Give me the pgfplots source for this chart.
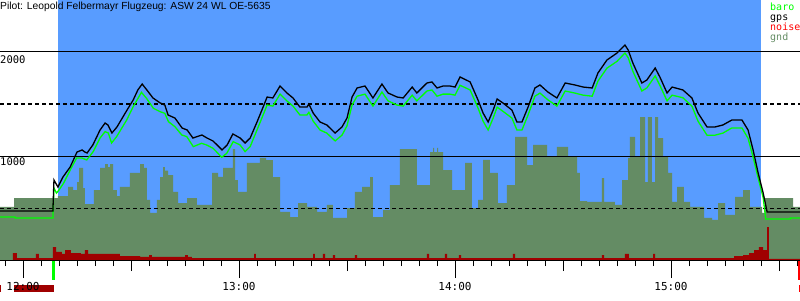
\documentclass[border=0pt]{standalone}
\usepackage{pgfplots}
\pgfplotsset{compat=1.18}
\usepackage{fontspec}
\setmainfont{Liberation Sans}
\newfontfamily\monofont{DejaVu Sans Mono}
\definecolor{sky}{RGB}{88,156,255}
\definecolor{gndc}{RGB}{100,140,100}
\definecolor{noisec}{RGB}{160,0,0}
\definecolor{baroc}{RGB}{0,255,0}
\definecolor{legred}{RGB}{255,0,0}

\begin{document}
\begin{tikzpicture}[x=1pt,y=1pt]
\begin{axis}[
  at={(0,0)}, anchor=south west,
  scale only axis, width=800pt, height=260pt,
  xmin=-6.39, xmax=215.83, ymin=0, ymax=2500,
  clip=false,
  axis x line*=bottom, axis y line=none,
  axis line style={black, line width=1pt, -},
  ytick=\empty,
  xtick={0,60,120,180}, xticklabel={\relax},
  minor xtick={-5,0,...,215},
  major tick length=18pt, minor tick length=6pt,
  extra x ticks={30,90,150,210},
  extra x tick style={major tick length=11pt},
  tick align=outside,
  every tick/.style={black, line width=1pt},
  axis on top,
]
% flight period background
\addplot[fill=sky, draw=none] coordinates {(9.72,0) (9.72,2500) (205.0,2500) (205.0,0)} -- cycle;

% ground elevation
\addplot[const plot, fill=gndc, draw=none] table {
-6.39 510
-2.5 596
8.3 596
9.7 615
12.5 702
13.9 673
15.0 750
15.6 885
16.7 692
17.2 538
19.7 673
21.4 885
22.8 923
23.6 894
24.2 923
25.0 673
26.1 615
26.9 702
29.7 837
32.5 923
33.6 885
34.4 577
35.3 452
37.2 577
38.1 798
38.9 894
39.4 860
40.3 817
41.7 654
43.1 548
45.6 596
48.3 529
52.5 837
54.2 800
55.6 885
58.3 1067
58.9 769
59.7 654
62.2 933
65.8 981
67.5 960
69.4 798
71.4 462
74.2 413
76.4 548
78.9 510
81.7 462
84.4 529
86.1 404
90.0 500
92.2 654
94.2 702
96.4 798
97.2 413
100.0 481
101.9 721
104.7 1067
109.4 721
113.1 1038
113.9 1077
114.2 1038
115.0 1077
115.3 1038
116.7 865
119.2 673
122.8 933
124.7 500
126.4 577
127.8 962
129.7 837
131.9 548
134.4 721
136.7 1183
140.0 913
141.7 1106
145.6 990
148.3 1087
151.4 990
153.9 837
154.7 567
156.7 558
160.8 788
161.4 558
164.4 529
166.4 769
168.1 981
168.6 1183
170.0 990
171.4 1375
172.8 750
173.6 1375
174.7 750
175.6 1375
176.4 1173
177.8 990
179.2 837
180.3 558
181.7 702
183.6 558
185.3 510
189.2 404
191.4 385
193.1 548
195.0 433
197.8 606
200.0 673
201.9 510
205.3 452
206.1 596
213.9 510
215.83 510
} \closedcycle;

% noise
\addplot[const plot, fill=noisec, draw=none] table {
-6.39 0
-2.8 67
-1.7 19
3.6 58
4.4 19
8.3 125
9.2 77
10.8 58
11.7 96
13.3 67
16.1 58
17.2 96
18.1 58
20.0 58
26.9 38
32.5 29
35.0 48
35.8 29
45.0 48
45.8 29
46.9 19
64.2 58
64.7 19
80.6 58
81.1 19
83.3 58
83.9 19
86.1 48
86.7 19
92.2 48
92.8 19
112.2 58
112.8 19
117.2 58
117.8 19
121.1 48
121.7 19
136.1 58
136.7 19
160.8 48
161.4 19
167.2 58
168.3 19
175.0 58
175.6 19
197.5 38
200.0 48
201.7 67
203.1 96
204.4 125
205.6 96
206.7 317
207.2 10
215.83 0
} \closedcycle;

% reference lines
\addplot[black, line width=1pt] coordinates {(-6.39,1000) (215.83,1000)};
\addplot[black, line width=1pt] coordinates {(-6.39,2000) (215.83,2000)};
\addplot[black, line width=1pt, dash pattern=on 4pt off 3pt] coordinates {(-6.39,500) (215.83,500)};
\addplot[black, line width=1pt, dash pattern=on 4pt off 3pt] coordinates {(-6.39,1500) (215.83,1500)};

% baro
\addplot[baroc, line width=1.3pt] table {
-6.39 413
-2.2 413
-2.2 404
8.3 404
8.6 692
9.3 644
10.0 673
11.3 740
13.1 865
14.9 981
16.3 981
17.7 962
19.5 1042
21.4 1173
22.8 1234
23.7 1221
24.6 1125
26.0 1186
28.8 1346
30.6 1474
32.9 1612
34.3 1555
36.2 1459
38.1 1426
39.4 1410
40.4 1330
42.2 1282
44.1 1202
45.5 1186
47.3 1090
49.6 1122
51.0 1106
52.8 1074
55.2 988
56.6 1026
58.4 1138
60.3 1106
61.7 1042
63.1 1090
65.0 1250
66.7 1395
67.8 1490
69.4 1480
71.4 1595
73.3 1530
75.0 1480
76.9 1395
78.9 1395
79.4 1420
80.6 1335
82.5 1250
84.4 1220
86.7 1145
88.6 1200
90.0 1290
91.4 1490
92.8 1575
95.0 1595
97.2 1480
99.7 1615
101.4 1530
103.9 1490
105.6 1480
108.1 1585
109.4 1530
112.2 1625
113.6 1635
115.0 1575
116.7 1595
118.6 1595
120.0 1585
121.4 1680
124.2 1635
126.4 1460
127.8 1335
129.2 1250
130.6 1365
131.7 1470
133.3 1430
135.8 1365
137.2 1250
138.6 1250
140.3 1395
142.2 1575
143.6 1605
145.8 1540
148.3 1480
150.6 1625
153.3 1605
155.6 1585
158.1 1575
159.7 1720
162.2 1845
165.0 1910
167.2 1990
168.1 1945
169.4 1815
171.9 1625
173.3 1655
175.6 1770
176.9 1680
178.9 1530
180.3 1585
183.3 1560
185.8 1480
187.5 1335
190.0 1200
192.2 1200
194.4 1220
196.9 1270
199.7 1270
201.4 1170
202.8 990
204.2 790
205.6 600
206.3 394
213.1 394
213.1 404
215.83 404
};

% gps
\addplot[black, line width=1.3pt] table {
-6.39 471
8.3 471
8.6 769
9.7 702
11.1 798
13.1 894
15.0 1038
16.4 1058
17.2 1038
17.8 1029
19.4 1106
21.4 1250
22.8 1317
23.6 1298
24.7 1221
26.1 1279
28.9 1442
30.6 1538
31.9 1635
33.1 1692
34.4 1635
36.1 1558
38.1 1510
39.4 1490
40.3 1394
42.2 1365
44.2 1269
45.6 1250
47.2 1173
49.7 1202
51.1 1173
52.8 1144
55.3 1058
56.7 1106
58.3 1212
60.3 1173
61.7 1125
63.1 1173
65.0 1327
66.7 1471
67.8 1567
69.4 1558
71.4 1673
73.3 1606
75.0 1558
76.9 1471
78.9 1471
79.4 1500
80.6 1413
82.5 1327
84.4 1298
86.7 1221
88.6 1279
90.0 1365
91.4 1567
92.8 1654
95.0 1673
97.2 1558
99.7 1692
101.4 1606
103.9 1567
105.6 1558
108.1 1663
109.4 1606
112.2 1702
113.6 1712
115.0 1654
116.7 1673
118.6 1673
120.0 1663
121.4 1760
124.2 1712
126.4 1538
127.8 1413
129.2 1327
130.6 1442
131.7 1548
133.3 1510
135.8 1442
137.2 1327
138.6 1327
140.3 1471
142.2 1654
143.6 1683
145.8 1615
148.3 1558
150.6 1702
153.3 1683
155.6 1663
158.1 1654
159.7 1798
162.2 1923
165.0 1990
167.2 2067
168.1 2019
169.4 1894
171.9 1702
173.3 1731
175.6 1846
176.9 1760
178.9 1606
180.3 1663
183.3 1635
185.8 1558
187.5 1413
190.0 1279
192.2 1279
194.4 1298
196.9 1346
199.7 1346
201.4 1250
202.8 1058
204.2 837
205.6 644
206.7 462
215.83 462
};

% take-off / landing markers below the axis
\addplot[fill=baroc, draw=none] coordinates {(8.0,-10) (8.8,-10) (8.8,-190) (8.0,-190)} -- cycle;
\addplot[fill=legred, draw=none] coordinates {(215.3,-10) (215.83,-10) (215.83,-190) (215.3,-190)} -- cycle;
\addplot[fill=legred, draw=none] coordinates {(215.5,-240) (215.83,-240) (215.83,-308) (215.5,-308)} -- cycle;
\addplot[fill=noisec, draw=none] coordinates {(-2.5,-240) (8.6,-240) (8.6,-308) (-2.5,-308)} -- cycle;
\addplot[fill=noisec, draw=none] coordinates {(-6.39,-240) (-6.1,-240) (-6.1,-308) (-6.39,-308)} -- cycle;

% time labels
\node[font=\monofont\fontsize{11}{12}\selectfont, anchor=base, yshift=-30pt] at (axis cs:0,0) {12:00};
\node[font=\monofont\fontsize{11}{12}\selectfont, anchor=base, yshift=-30pt] at (axis cs:60,0) {13:00};
\node[font=\monofont\fontsize{11}{12}\selectfont, anchor=base, yshift=-30pt] at (axis cs:120,0) {14:00};
\node[font=\monofont\fontsize{11}{12}\selectfont, anchor=base, yshift=-30pt] at (axis cs:180,0) {15:00};
% altitude labels
\node[font=\monofont\fontsize{10.5}{12}\selectfont, anchor=north west, inner sep=0pt] at (axis cs:-6.39,1971) {2000};
\node[font=\monofont\fontsize{10.5}{12}\selectfont, anchor=north west, inner sep=0pt] at (axis cs:-6.39,981) {1000};
\end{axis}
% title
\node[font=\fontsize{10.3}{12}\selectfont, anchor=base west, inner sep=0pt] at (0pt,250.5pt) {Pilot: Leopold Felbermayr Flugzeug: ASW 24 WL OE-5635};
% legend
\node[font=\monofont\fontsize{10}{12}\selectfont, text=baroc, anchor=base west, inner sep=0pt] at (770pt,249pt) {baro};
\node[font=\monofont\fontsize{10}{12}\selectfont, text=black, anchor=base west, inner sep=0pt] at (770pt,239pt) {gps};
\node[font=\monofont\fontsize{10}{12}\selectfont, text=legred, anchor=base west, inner sep=0pt] at (770pt,229pt) {noise};
\node[font=\monofont\fontsize{10}{12}\selectfont, text=gndc, anchor=base west, inner sep=0pt] at (770pt,219pt) {gnd};
\pgfresetboundingbox
\path[use as bounding box] (0pt,-40pt) rectangle (800pt,260pt);
\end{tikzpicture}
\end{document}
